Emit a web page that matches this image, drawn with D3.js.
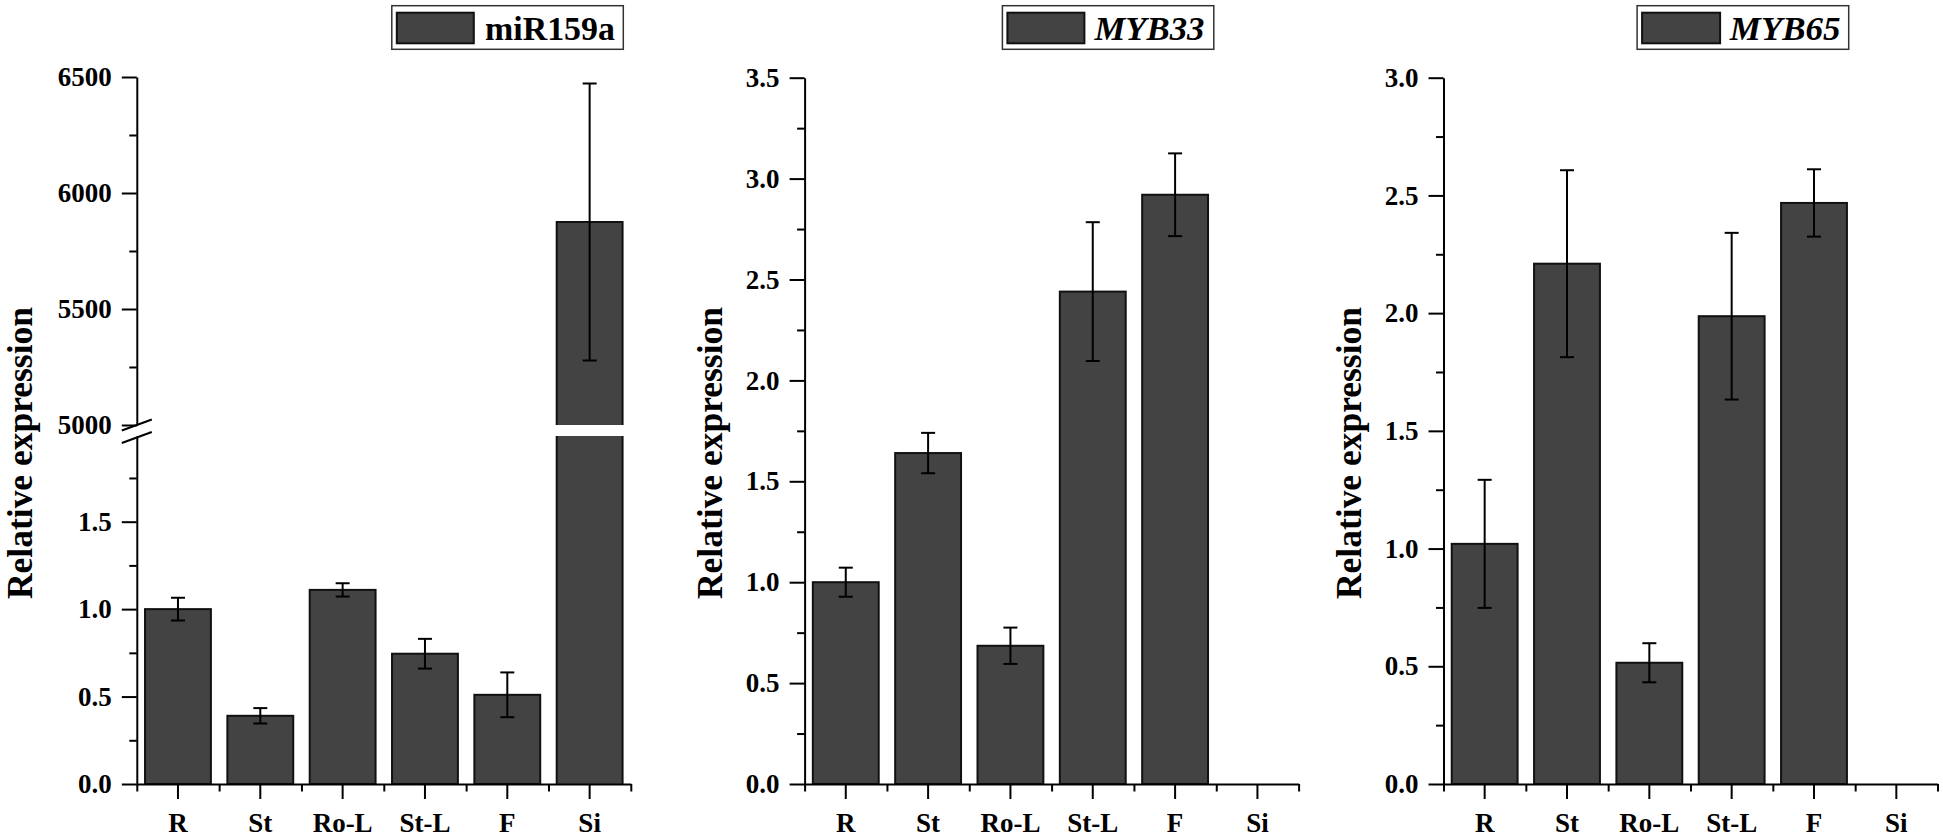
<!DOCTYPE html>
<html>
<head>
<meta charset="utf-8">
<script src="https://cdn.jsdelivr.net/npm/d3@7"></script>
<style>
  html, body { margin: 0; padding: 0; background: #fff; }
  svg { display: block; }
  text { font-family: "Liberation Serif", "Times New Roman", serif; font-weight: bold; fill: #000; }
</style>
</head>
<body>
<svg id="chart" width="1943" height="836"></svg>
<script>
// ---------------- data ----------------
const categories = ["R", "St", "Ro-L", "St-L", "F", "Si"];

const mir159aMean = [1.00, 0.39, 1.11, 0.745, 0.51, 5875];
const mir159aErr  = [0.065, 0.044, 0.038, 0.085, 0.128, 597];

const myb33Mean = [1.00, 1.64, 0.685, 2.44, 2.92, 0];
const myb33Err  = [0.072, 0.10, 0.09, 0.344, 0.205, 0];

const myb65Mean = [1.02, 2.21, 0.515, 1.987, 2.468, 0];
const myb65Err  = [0.272, 0.397, 0.083, 0.354, 0.143, 0];

const seriesNames = ["miR159a", "MYB33", "MYB65"];
const seriesItalic = [false, true, true];

const mirLowTicks   = [0, 0.5, 1.0, 1.5];
const mirLowMinor   = [0.25, 0.75, 1.25, 1.75];
const mirHighTicks  = [5000, 5500, 6000, 6500];
const mirHighMinor  = [5250, 5750, 6250];
const myb33Ticks    = [0, 0.5, 1.0, 1.5, 2.0, 2.5, 3.0, 3.5];
const myb33Minor    = [0.25, 0.75, 1.25, 1.75, 2.25, 2.75, 3.25];
const myb65Ticks    = [0, 0.5, 1.0, 1.5, 2.0, 2.5, 3.0];
const myb65Minor    = [0.25, 0.75, 1.25, 1.75, 2.25, 2.75];

const yLabel = "Relative expression";

// ---------------- layout ----------------
const svg = d3.select("#chart");
const BASE = 784;
const TOP = 77.7;
const PLOT_W = 494;
const BAR_FILL = "#434343";
const BAR_STROKE = "#111";
const MAJ = 15, MIN = 7.5;
const TICK_FS = 27;

const panels = [
  { x0: 136.8, mean: mir159aMean, err: mir159aErr, name: 0,
    legend: { x: 391.8, w: 231.5, sw: 77, tx: 485, tl: 130 },
    labelX: 32 },
  { x0: 804.6, mean: myb33Mean, err: myb33Err, name: 1,
    yDomain: [0, 3.5], ticks: myb33Ticks, minor: myb33Minor,
    legend: { x: 1002.4, w: 211.4, sw: 77, tx: 1094.4, tl: 110 },
    labelX: 722 },
  { x0: 1443.5, mean: myb65Mean, err: myb65Err, name: 2,
    yDomain: [0, 3.0], ticks: myb65Ticks, minor: myb65Minor,
    legend: { x: 1637.1, w: 211.6, sw: 78, tx: 1729.8, tl: 110.7 },
    labelX: 1361 }
];

function styleAxis(g) {
  g.attr("font-size", null).attr("font-family", null);
  g.selectAll("path.domain").attr("stroke", "#000").attr("stroke-width", 2);
  g.selectAll(".tick line").attr("stroke", "#000").attr("stroke-width", 2);
  g.selectAll(".tick text").style("font-size", TICK_FS + "px").attr("fill", "#000");
}

panels.forEach((p, pi) => {
  const g = svg.append("g");
  const x = d3.scaleBand().domain(categories).range([p.x0, p.x0 + PLOT_W])
    .paddingInner(0.2).paddingOuter(0.1);
  const edges = d3.scaleLinear().domain([0, categories.length]).range([p.x0, p.x0 + PLOT_W]);

  let yOf, segments;
  if (pi === 0) {
    const yLow = d3.scaleLinear().domain([0, 1.99]).range([BASE, 436]);
    const yHigh = d3.scaleLinear().domain([5000, 6500]).range([425, 77]);
    yOf = v => (v <= 1.99 ? yLow(v) : yHigh(v));
    segments = [
      { s: yLow, ticks: mirLowTicks, minor: mirLowMinor, fmt: d3.format(".1f") },
      { s: yHigh, ticks: mirHighTicks, minor: mirHighMinor, fmt: d3.format("d") }
    ];
    p.yLow = yLow; p.yHigh = yHigh;
  } else {
    const y = d3.scaleLinear().domain(p.yDomain).range([BASE, TOP]);
    yOf = y;
    segments = [{ s: y, ticks: p.ticks, minor: p.minor, fmt: d3.format(".1f") }];
  }

  // ---- bars ----
  const data = categories.map((c, i) => ({ c, m: p.mean[i], e: p.err[i] }));
  const barG = g.append("g");
  data.forEach(d => {
    const bx = x(d.c), bw = x.bandwidth();
    if (pi === 0 && d.m > 1.99) {
      const yLo = p.yLow, yHi = p.yHigh;
      barG.append("rect").attr("x", bx).attr("y", yLo(1.99)).attr("width", bw)
        .attr("height", yLo(0) - yLo(1.99)).attr("fill", BAR_FILL);
      barG.append("path")
        .attr("d", `M${bx},${yLo(0)}V${yLo(1.99)}M${bx + bw},${yLo(1.99)}V${yLo(0)}`)
        .attr("stroke", BAR_STROKE).attr("stroke-width", 2).attr("fill", "none");
      barG.append("rect").attr("x", bx).attr("y", yHi(d.m)).attr("width", bw)
        .attr("height", yHi(5000) - yHi(d.m)).attr("fill", BAR_FILL);
      barG.append("path")
        .attr("d", `M${bx},${yHi(5000)}V${yHi(d.m)}H${bx + bw}V${yHi(5000)}`)
        .attr("stroke", BAR_STROKE).attr("stroke-width", 2).attr("fill", "none");
    } else if (d.m > 0) {
      barG.append("rect").attr("x", bx).attr("y", yOf(d.m)).attr("width", bw)
        .attr("height", yOf(0) - yOf(d.m)).attr("fill", BAR_FILL)
        .attr("stroke", BAR_STROKE).attr("stroke-width", 2);
    }
  });

  // ---- error bars ----
  const errG = g.append("g").attr("stroke", "#000").attr("stroke-width", 2);
  data.filter(d => d.e > 0).forEach(d => {
    const cx = x(d.c) + x.bandwidth() / 2;
    const y1 = yOf(d.m + d.e), y2 = yOf(d.m - d.e);
    errG.append("line").attr("x1", cx).attr("x2", cx).attr("y1", y1).attr("y2", y2);
    errG.append("line").attr("x1", cx - 7).attr("x2", cx + 7).attr("y1", y1).attr("y2", y1);
    errG.append("line").attr("x1", cx - 7).attr("x2", cx + 7).attr("y1", y2).attr("y2", y2);
  });

  // ---- y axes ----
  segments.forEach(seg => {
    const ga = g.append("g").attr("transform", `translate(${p.x0},0)`)
      .call(d3.axisLeft(seg.s).tickValues(seg.ticks).tickSize(MAJ).tickSizeOuter(0)
        .tickPadding(10).tickFormat(seg.fmt));
    styleAxis(ga);
    const gm = g.append("g").attr("transform", `translate(${p.x0},0)`)
      .call(d3.axisLeft(seg.s).tickValues(seg.minor).tickSize(MIN).tickSizeOuter(0).tickFormat(""));
    gm.select("path.domain").remove();
    styleAxis(gm);
  });

  // break marks for miR159a
  if (pi === 0) {
    [425, 437.5].forEach(yy => {
      g.append("line").attr("x1", p.x0 - 15).attr("y1", yy + 5.5)
        .attr("x2", p.x0 + 15).attr("y2", yy - 5.5)
        .attr("stroke", "#000").attr("stroke-width", 2);
    });
  }

  // ---- x axis ----
  const gx = g.append("g").attr("transform", `translate(0,${BASE})`)
    .call(d3.axisBottom(x).tickSize(MAJ).tickSizeOuter(0));
  styleAxis(gx);
  gx.selectAll(".tick text").attr("y", 47.5).attr("dy", 0);
  const gxm = g.append("g").attr("transform", `translate(0,${BASE})`)
    .call(d3.axisBottom(edges).tickValues(d3.range(categories.length + 1)).tickSize(MIN).tickFormat(""));
  gxm.select("path.domain").remove();
  styleAxis(gxm);

  // ---- y label ----
  g.append("text")
    .attr("transform", `translate(${p.labelX},453) rotate(-90)`)
    .attr("text-anchor", "middle")
    .style("font-size", "35px")
    .attr("textLength", 292).attr("lengthAdjust", "spacingAndGlyphs")
    .text(yLabel);

  // ---- legend ----
  const L = p.legend;
  g.append("rect").attr("x", L.x).attr("y", 5.7).attr("width", L.w).attr("height", 43.6)
    .attr("fill", "#fff").attr("stroke", "#333").attr("stroke-width", 1.5);
  g.append("rect").attr("x", L.x + 5).attr("y", 12.7).attr("width", L.sw).attr("height", 30.6)
    .attr("fill", BAR_FILL).attr("stroke", BAR_STROKE).attr("stroke-width", 2);
  g.append("text").attr("x", L.tx).attr("y", 40)
    .style("font-size", "33px")
    .style("font-style", seriesItalic[p.name] ? "italic" : "normal")
    .attr("textLength", L.tl).attr("lengthAdjust", "spacingAndGlyphs")
    .text(seriesNames[p.name]);
});
</script>
</body>
</html>
